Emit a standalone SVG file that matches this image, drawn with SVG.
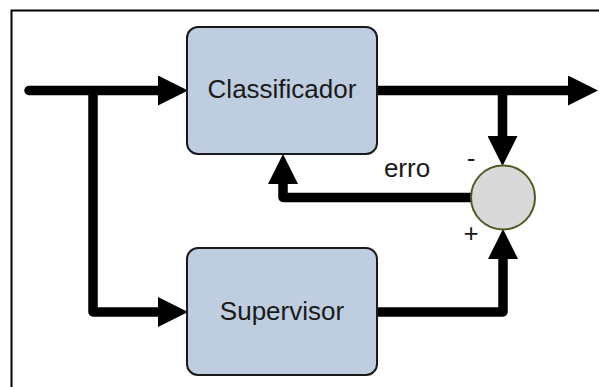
<svg xmlns="http://www.w3.org/2000/svg" width="599" height="387" viewBox="0 0 599 387">
  <style>
    .box { fill: #bfcde0; stroke: #1a1a1a; stroke-width: 2; }
    .lbl { font-family: "Liberation Sans", Arial, sans-serif; font-size: 26px; fill: #1a1a1a; }
    .wire { fill: none; stroke: #000; stroke-width: 9.5; stroke-linejoin: round; }
  </style>
  <defs>
    <marker id="arr" viewBox="0 0 30 30" markerWidth="30" markerHeight="30" refX="0" refY="15" orient="auto" markerUnits="userSpaceOnUse">
      <path d="M0,0 L30,15 L0,30 Z" fill="#000"/>
    </marker>
  </defs>
  <rect x="0" y="0" width="599" height="387" fill="#fff"/>
  <rect x="11.5" y="10.5" width="700" height="500" fill="none" stroke="#000" stroke-width="2"/>

  <g id="connectors">
    <path class="wire" d="M29,90.5 H158" stroke-linecap="round" marker-end="url(#arr)"/>
    <path class="wire" d="M93,90.5 V312 H158" marker-end="url(#arr)"/>
    <path class="wire" d="M377,90.5 H568" stroke-linecap="round" marker-end="url(#arr)"/>
    <path class="wire" d="M502.5,90.5 V136" marker-end="url(#arr)"/>
    <path class="wire" d="M471,197.5 H283 V184" marker-end="url(#arr)"/>
    <path class="wire" d="M377,312 H503 V259" marker-end="url(#arr)"/>
  </g>

  <g id="classificador">
    <rect class="box" x="187" y="27" width="190" height="127" rx="11"/>
    <text class="lbl" x="282" y="98" text-anchor="middle">Classificador</text>
  </g>

  <g id="supervisor">
    <rect class="box" x="187" y="248" width="190" height="127" rx="11"/>
    <text class="lbl" x="282" y="320" text-anchor="middle">Supervisor</text>
  </g>

  <g id="somador">
    <circle cx="503" cy="197.5" r="32" fill="#d9d9d9" stroke="#4e5a26" stroke-width="2"/>
  </g>

  <g id="labels">
    <text class="lbl" x="407" y="177" text-anchor="middle">erro</text>
    <text class="lbl" x="471" y="167" text-anchor="middle" font-size="22">-</text>
    <text class="lbl" x="471" y="242" text-anchor="middle" font-size="22">+</text>
  </g>
</svg>
